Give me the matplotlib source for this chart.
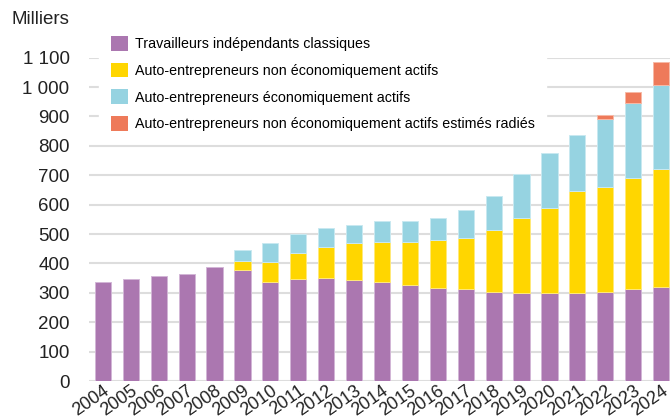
import matplotlib

matplotlib.use("Agg")
import matplotlib.pyplot as plt
import matplotlib.transforms as mtransforms
import numpy as np
from matplotlib.patches import Patch

plt.rcParams["font.family"] = ["Liberation Sans", "DejaVu Sans"]

YEARS = [str(y) for y in range(2004, 2025)]
# cumulated tops (milliers)
CLASSIQUES = [338, 347, 358, 364, 388, 379, 337, 347, 350, 345, 338, 328, 317, 312, 304, 300, 299, 300, 304, 312, 321]
TOP_NON_ECO = [0, 0, 0, 0, 0, 408, 406, 435, 457, 468, 474, 474, 479, 488, 515, 555, 590, 646, 661, 692, 722]
TOP_ECO = [0, 0, 0, 0, 0, 445, 468, 500, 519, 531, 544, 544, 555, 582, 628, 705, 776, 838, 891, 946, 1007]
TOP_RADIES = [0, 0, 0, 0, 0, 0, 0, 0, 0, 0, 0, 0, 0, 0, 0, 0, 0, 0, 905, 983, 1085]

LABELS = [
    "Travailleurs indépendants classiques",
    "Auto-entrepreneurs non économiquement actifs",
    "Auto-entrepreneurs économiquement actifs",
    "Auto-entrepreneurs non économiquement actifs estimés radiés",
]
COLORS = ["#ab77b0", "#ffd600", "#96d3e1", "#ee7a5a"]
EDGES = ["#d2b6d6", "#ffe97a", "#c8e9f1", "#f7b9a6"]


def segments():
    classiques = np.array(CLASSIQUES, dtype=float)
    non_eco = np.array(TOP_NON_ECO, dtype=float)
    eco = np.array(TOP_ECO, dtype=float)
    radies = np.array(TOP_RADIES, dtype=float)
    non_eco_seg = np.where(non_eco > 0, non_eco - classiques, 0)
    eco_seg = np.where(eco > 0, eco - np.maximum(non_eco, classiques), 0)
    rad_seg = np.where(radies > 0, radies - eco, 0)
    return [classiques, non_eco_seg, eco_seg, rad_seg]


def main() -> None:
    fig = plt.figure(figsize=(6.7, 4.18), dpi=100)
    ax = fig.add_axes([89 / 670, 1 - 381 / 418, 581 / 670, (381 - 57.7) / 418])
    x = np.arange(len(YEARS))
    bottom = np.zeros(len(YEARS))
    for seg, color, edge in zip(segments(), COLORS, EDGES):
        keep = seg > 0
        ax.bar(x[keep], seg[keep], bottom=bottom[keep], width=0.58, color=color,
               edgecolor=edge, linewidth=0.7, zorder=3)
        bottom += seg

    ax.set_ylim(0, 1100)
    ax.set_xlim(-0.5, 20.32)
    ax.set_yticks(range(0, 1101, 100))
    ax.set_yticklabels([f"{v:,}".replace(",", " ") for v in range(0, 1101, 100)], fontsize=13.5, color="#222222")
    ax.set_xticks(x)
    ax.set_xticklabels(YEARS, rotation=35, ha="right", va="top", rotation_mode="anchor",
                       fontsize=13, color="#222222")
    shift = mtransforms.ScaledTranslation(6 / 100, 0, fig.dpi_scale_trans)
    for lab in ax.get_xticklabels():
        lab.set_transform(lab.get_transform() + shift)
    ax.tick_params(axis="both", length=0)
    ax.tick_params(axis="y", pad=14)
    ax.tick_params(axis="x", pad=1)
    for spine in ax.spines.values():
        spine.set_visible(False)
    ax.grid(axis="y", color="#dddddd", linewidth=1.5, zorder=0)
    ax.set_axisbelow(True)

    fig.text(69 / 670, 1 - 20 / 418, "Milliers", fontsize=13.5, color="#222222", ha="right", va="center")

    handles = [Patch(facecolor=c, edgecolor="none") for c in COLORS]
    leg = ax.legend(
        handles, LABELS, loc="upper left", bbox_to_anchor=(0.018, 1.1025),
        frameon=True, fontsize=10.3, handlelength=1.19, handleheight=1.19,
        handletextpad=0.5, labelspacing=0.81, borderpad=0.8, borderaxespad=0,
        fancybox=False,
    )
    leg.get_frame().set_facecolor("white")
    leg.get_frame().set_edgecolor("white")
    leg.get_frame().set_alpha(1)
    leg.set_zorder(5)

    fig.savefig("out.png", dpi=100)


if __name__ == "__main__":
    main()
